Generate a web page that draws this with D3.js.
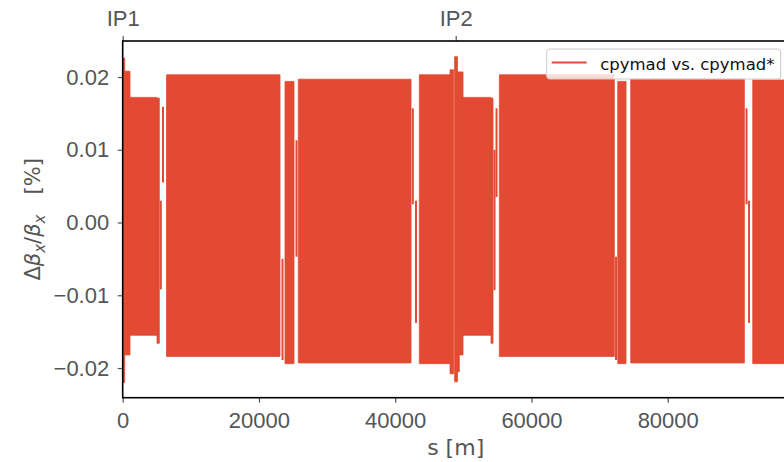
<!DOCTYPE html>
<html>
<head>
<meta charset="utf-8">
<script src="https://cdn.jsdelivr.net/npm/d3@7"></script>
<style>
  body { margin: 0; background: #fff; }
  svg { display: block; font-family: "DejaVu Sans", sans-serif; }
  .axis text { font-size: 22px; fill: #555; }
  .axis line { stroke: #555; stroke-width: 1.2; }
</style>
</head>
<body>
<script>
// Ring length and interaction points
let ringLength = 97756;
let ipNames = ["IP1", "IP2"];
let ipPositions = [0, 48878];

// Tick values
let xTicks = [0, 20000, 40000, 60000, 80000];
let yTicks = [-0.02, -0.01, 0.00, 0.01, 0.02];

// Envelope of the (densely oscillating) beta-beat, one entry per block of s
let bandStart = [0, 294, 1072, 5035, 6429, 23824, 25776, 43539, 48045, 48720, 49146, 49410, 49953, 54063, 55282, 72662, 74570, 92478];
let bandEnd   = [294, 1072, 5035, 5373, 23090, 25145, 42320, 48045, 48573, 49146, 49410, 49953, 54063, 54357, 72163, 73880, 91246, 97756];
let bandUpper = [0.0226, 0.0208, 0.0172, 0.0171, 0.0203, 0.0194, 0.0197, 0.0203, 0.0210, 0.0228, 0.0207, 0.0207, 0.0172, 0.0171, 0.0203, 0.0194, 0.0197, 0.0196];
let bandLower = [-0.0220, -0.0182, -0.0155, -0.0166, -0.0184, -0.0194, -0.0193, -0.0194, -0.0208, -0.0219, -0.0205, -0.0182, -0.0155, -0.0166, -0.0184, -0.0194, -0.0193, -0.0194];

// Thin single swings inside the gaps between blocks
let swingS      = [5593, 5916, 23457, 25512, 42584, 43054, 54577, 54871, 72412, 91567, 91934];
let swingTop    = [0.0030, 0.0159, -0.0050, 0.0113, 0.0157, 0.0030, 0.0100, 0.0157, -0.0047, 0.0157, 0.0030];
let swingBottom = [-0.0092, 0.0055, -0.0189, -0.0047, 0.0025, -0.0138, -0.0093, 0.0035, -0.0189, 0.0025, -0.0138];

let legendLabel = "cpymad vs. cpymad*";
let lineColor = "#E24A33";

// SVG area and margins (the axes run past the right edge of the picture)
let svgWidth = 784;
let svgHeight = 462;
let chartMargin = { top: 41, left: 122.7 };
let chartWidth = 666;
let chartHeight = 356.7;

let svg = d3.select("body")
    .append("svg")
    .attr("width", svgWidth)
    .attr("height", svgHeight);

let chartGroup = svg.append("g")
    .attr("transform", `translate(${chartMargin.left}, ${chartMargin.top})`);

// Scales
let xScale = d3.scaleLinear()
    .domain([0, ringLength])
    .range([0, chartWidth]);

let yScale = d3.scaleLinear()
    .domain([-0.02408, 0.02495])
    .range([chartHeight, 0]);

// Blocks drawn as filled areas between the envelopes
let bands = bandStart.map((s, i) => [
    { s: s, lo: bandLower[i], hi: bandUpper[i] },
    { s: bandEnd[i], lo: bandLower[i], hi: bandUpper[i] }
]);

let area = d3.area()
    .x(d => xScale(d.s))
    .y0(d => yScale(d.lo))
    .y1(d => yScale(d.hi));

chartGroup.append("g")
    .selectAll("path")
    .data(bands)
    .enter()
    .append("path")
    .attr("d", area)
    .attr("fill", lineColor)
    .attr("stroke", lineColor)
    .attr("stroke-width", 0.8);

// Single swings
chartGroup.append("g")
    .selectAll("line")
    .data(swingS)
    .enter()
    .append("line")
    .attr("x1", d => xScale(d))
    .attr("x2", d => xScale(d))
    .attr("y1", (d, i) => yScale(swingTop[i]))
    .attr("y2", (d, i) => yScale(swingBottom[i]))
    .attr("stroke", lineColor)
    .attr("stroke-width", 2);

// Axes
let xAxis = d3.axisBottom(xScale)
    .tickValues(xTicks)
    .tickFormat(d3.format("d"))
    .tickSize(5)
    .tickPadding(10);

let yAxis = d3.axisLeft(yScale)
    .tickValues(yTicks)
    .tickFormat(d3.format(".2f"))
    .tickSize(5)
    .tickPadding(8.5);

let ipAxis = d3.axisTop(xScale)
    .tickValues(ipPositions)
    .tickFormat((d, i) => ipNames[i])
    .tickSize(5)
    .tickPadding(10);

chartGroup.append("g")
    .attr("class", "axis")
    .attr("transform", `translate(0, ${chartHeight})`)
    .call(xAxis);

chartGroup.append("g")
    .attr("class", "axis")
    .call(yAxis);

chartGroup.append("g")
    .attr("class", "axis")
    .call(ipAxis);

chartGroup.selectAll(".axis .domain").remove();

// Spines
chartGroup.append("rect")
    .attr("x", 0)
    .attr("y", 0)
    .attr("width", chartWidth)
    .attr("height", chartHeight)
    .attr("fill", "none")
    .attr("stroke", "#000")
    .attr("stroke-width", 1.6);

// Axis labels
chartGroup.append("text")
    .attr("x", chartWidth / 2)
    .attr("y", chartHeight + 57)
    .attr("text-anchor", "middle")
    .attr("font-size", 22)
    .attr("fill", "#555")
    .text("s [m]");

let yLabel = svg.append("text")
    .attr("transform", `translate(40, ${chartMargin.top + chartHeight / 2}) rotate(-90)`)
    .attr("text-anchor", "middle")
    .attr("font-size", 21)
    .attr("fill", "#555");
yLabel.append("tspan").text("Δ");
yLabel.append("tspan").attr("font-style", "italic").text("β");
yLabel.append("tspan").attr("font-style", "italic").attr("font-size", 15).attr("dy", 5).text("x");
yLabel.append("tspan").attr("dy", -5).text("/");
yLabel.append("tspan").attr("font-style", "italic").text("β");
yLabel.append("tspan").attr("font-style", "italic").attr("font-size", 15).attr("dy", 5).text("x");
yLabel.append("tspan").attr("dy", -5).attr("xml:space", "preserve").text("\u00a0\u00a0\u00a0[%]");

// Legend
let legend = svg.append("g")
    .attr("transform", "translate(546.7, 49)");

legend.append("rect")
    .attr("width", 234)
    .attr("height", 30)
    .attr("rx", 3)
    .attr("fill", "#fff")
    .attr("fill-opacity", 0.8)
    .attr("stroke", "#ccc")
    .attr("stroke-width", 1);

legend.append("line")
    .attr("x1", 5)
    .attr("x2", 40)
    .attr("y1", 13.5)
    .attr("y2", 13.5)
    .attr("stroke", lineColor)
    .attr("stroke-width", 2.2);

legend.append("text")
    .attr("x", 53.5)
    .attr("y", 20.5)
    .attr("font-size", 16.5)
    .attr("fill", "#111")
    .text(legendLabel);
</script>
</body>
</html>
